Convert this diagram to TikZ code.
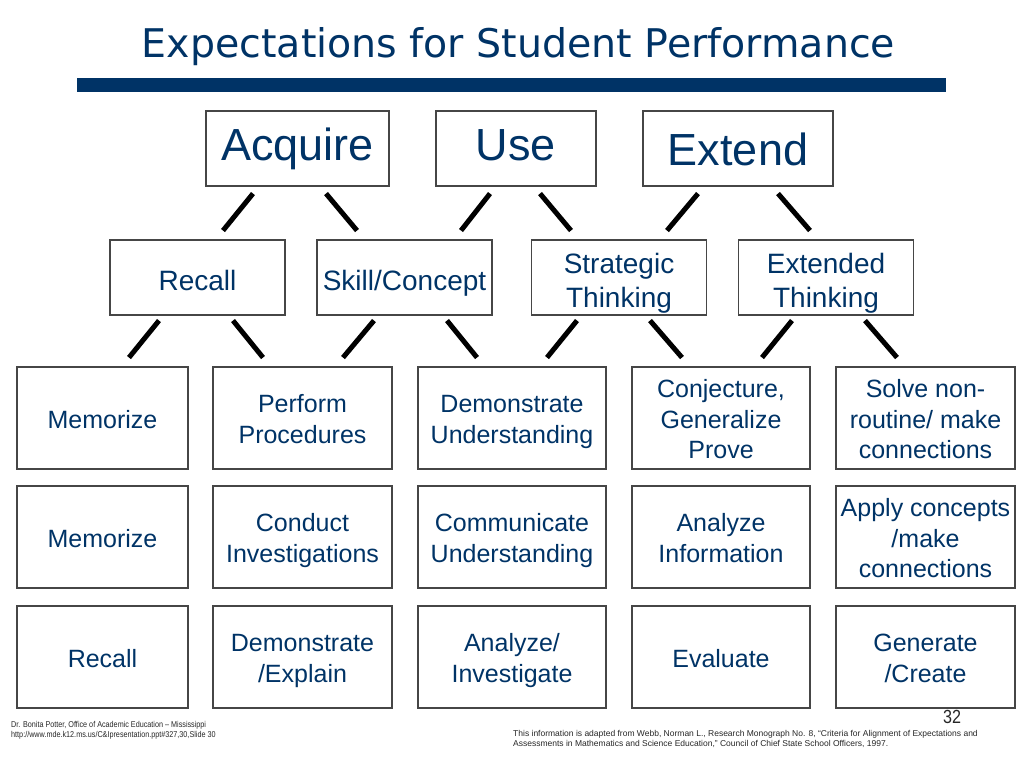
\documentclass[tikz,border=0pt]{standalone}
\usepackage{fontspec}
\setmainfont{Liberation Sans}
\newfontfamily\titlefont{DejaVu Sans}
\newfontfamily\narrowfont[FakeStretch=0.85]{Liberation Sans}
\definecolor{azul}{RGB}{0,51,102}
\definecolor{borde}{RGB}{70,70,70}
\newcommand\arr[1]{\rule{0pt}{#1}}
\newcommand\aba[1]{\rule[-#1]{0pt}{0pt}}
\tikzset{
    caja/.style={draw=borde,line width=1.1pt,text=azul,inner sep=0pt,align=center},
    arriba/.style={caja,font=\fontsize{45}{54}\selectfont,minimum height=75,text height=33,text depth=9.5},
    nivel/.style={caja,font=\fontsize{28}{33.6}\selectfont,minimum width=175,minimum height=75},
    celda/.style={caja,font=\fontsize{25}{30.5}\selectfont,minimum height=102},
    raya/.style={line width=5pt,black},
    pie/.style={inner sep=0pt,text=black!85}
}
\begin{document}
\begin{tikzpicture}[x=1pt,y=-1pt]
\useasboundingbox (0,0) rectangle (1024,768);
    %Titulo
    \node[anchor=base,text=azul,inner sep=0pt,font=\titlefont\fontsize{39.5}{47}\selectfont] (titulo) at (518.5,57) {Expectations for Student Performance};
    \fill[azul] (77,78) rectangle (946,92);

    %Primer nivel
    \node[arriba,minimum width=183] (acquire) at (297.5,148.5) {Acquire};
    \node[arriba,minimum width=160] (use) at (516,148.5) {Use};
    \node[arriba,minimum width=190,text depth=0] (extend) at (738,148.5) {Extend};

    %Segundo nivel
    \node[nivel] (recall) at (197.5,277.5) {\arr{33pt}Recall\aba{7.5pt}};
    \node[nivel] (skill) at (404.5,277.5) {\arr{33pt}Skill/Concept\aba{7.5pt}};
    \node[nivel] (strategic) at (619,277.5) {\arr{33pt}Strategic\\Thinking\aba{7.5pt}};
    \node[nivel] (extended) at (826,277.5) {\arr{33pt}Extended\\Thinking\aba{7.5pt}};

    %Rayas
    \foreach \n/\a/\b in {acquire/-44.5/-74.5,acquire/28.5/59.5,use/-26/-55,use/24/55,extend/-40/-71,extend/40/72}{
        \draw[raya] ([xshift=\a pt,yshift=-7pt]\n.south) -- ([xshift=\b pt,yshift=-44pt]\n.south);
    }
    \foreach \n/\a/\b in {recall/-38.5/-68.5,recall/35.5/65.5,skill/-30.5/-61.5,skill/42.5/72.5,strategic/-42/-72,strategic/31/63,extended/-34/-64,extended/39/71}{
        \draw[raya] ([xshift=\a pt,yshift=-5pt]\n.south) -- ([xshift=\b pt,yshift=-42pt]\n.south);
    }

    %Grilla de verbos
    \foreach \cx/\w/\txt [count=\c] in {102.5/171/Memorize,302.5/179/{Perform\\Procedures},512/188/{Demonstrate\\Understanding},721/178/{Conjecture,\\Generalize\\Prove},925.5/179/{Solve non-\\routine/ make\\connections}}{
        \node[celda,minimum width=\w] (a\c) at (\cx,418) {\arr{29pt}\txt\aba{9pt}};
    }
    \foreach \cx/\w/\txt [count=\c] in {102.5/171/Memorize,302.5/179/{Conduct\\Investigations},512/188/{Communicate\\Understanding},721/178/{Analyze\\Information},925.5/179/{Apply concepts\\/make\\connections}}{
        \node[celda,minimum width=\w] (b\c) at (\cx,537) {\arr{29pt}\txt\aba{9pt}};
    }
    \foreach \cx/\w/\txt [count=\c] in {102.5/171/Recall,302.5/179/{Demonstrate\\/Explain},512/188/{Analyze/\\Investigate},721/178/Evaluate,925.5/179/{Generate\\/Create}}{
        \node[celda,minimum width=\w] (c\c) at (\cx,657) {\arr{29pt}\txt\aba{9pt}};
    }

    %Pie
    \node[pie,anchor=base,font=\narrowfont\fontsize{19}{22}\selectfont] (pagina) at (952,723) {32};
    \node[pie,anchor=base west,font=\narrowfont\fontsize{8.5}{10}\selectfont] (autor) at (11,727) {Dr. Bonita Potter, Office of Academic Education – Mississippi};
    \node[pie,anchor=base west,font=\narrowfont\fontsize{8.5}{10}\selectfont] (enlace) at (11,737) {http://www.mde.k12.ms.us/C\&Ipresentation.ppt\#327,30,Slide 30};
    \node[pie,anchor=base west,font=\fontsize{8.5}{10}\selectfont] (fuente1) at (513,736) {This information is adapted from Webb, Norman L., Research Monograph No. 8, “Criteria for Alignment of Expectations and};
    \node[pie,anchor=base west,font=\fontsize{8.5}{10}\selectfont] (fuente2) at (513,746) {Assessments in Mathematics and Science Education,” Council of Chief State School Officers, 1997.};
\end{tikzpicture}
\end{document}
